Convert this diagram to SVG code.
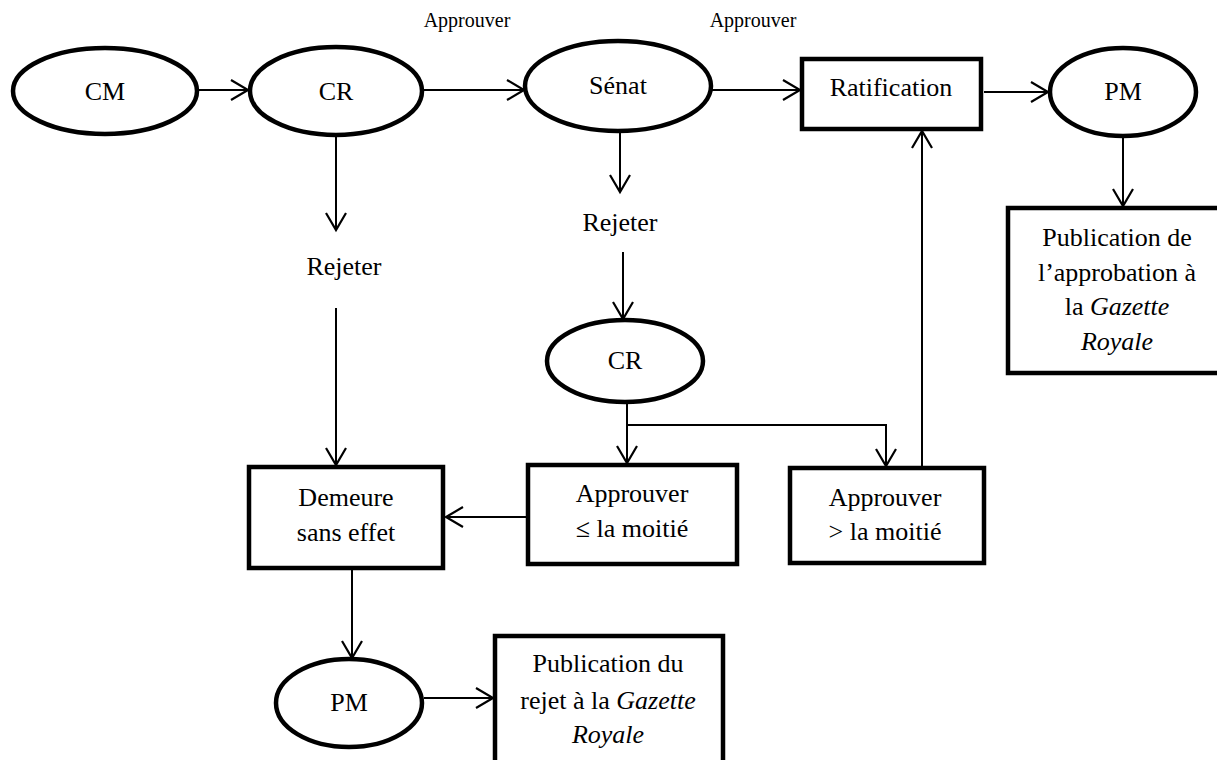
<svg xmlns="http://www.w3.org/2000/svg" width="1217" height="760" viewBox="0 0 1217 760">
<style>
.n{fill:#fff;stroke:#000;stroke-width:4.5}
.t{font-family:'Liberation Serif','Tinos','DejaVu Serif',serif;font-size:26px;fill:#000;text-anchor:middle}
.s{font-family:'Liberation Serif','Tinos','DejaVu Serif',serif;font-size:20px;fill:#000;text-anchor:middle}
.c{fill:none;stroke:#000;stroke-width:2}
</style>
<defs>
<marker id="a" markerUnits="userSpaceOnUse" markerWidth="22" markerHeight="22" viewBox="0 0 22 22" refX="19" refY="11" orient="auto">
<path d="M2,1 L19,11 L2,21" fill="none" stroke="#000" stroke-width="2.2"/>
</marker>
</defs>
<rect width="1217" height="760" fill="#fff"/>
<g id="connectors">
<line class="c" x1="198" y1="90" x2="248" y2="90" marker-end="url(#a)"/>
<line class="c" x1="423" y1="90" x2="524" y2="90" marker-end="url(#a)"/>
<line class="c" x1="712" y1="90" x2="800" y2="90" marker-end="url(#a)"/>
<line class="c" x1="984" y1="92" x2="1048" y2="92" marker-end="url(#a)"/>
<line class="c" x1="1123" y1="136" x2="1123" y2="206" marker-end="url(#a)"/>
<line class="c" x1="336" y1="135" x2="336" y2="230" marker-end="url(#a)"/>
<line class="c" x1="336" y1="308" x2="336" y2="465" marker-end="url(#a)"/>
<line class="c" x1="620" y1="130" x2="620" y2="192" marker-end="url(#a)"/>
<line class="c" x1="623" y1="252" x2="623" y2="319" marker-end="url(#a)"/>
<line class="c" x1="627" y1="402" x2="627" y2="463" marker-end="url(#a)"/>
<polyline class="c" points="627,425 886,425 886,466" marker-end="url(#a)"/>
<line class="c" x1="922" y1="466" x2="922" y2="131" marker-end="url(#a)"/>
<line class="c" x1="526" y1="517" x2="446" y2="517" marker-end="url(#a)"/>
<line class="c" x1="352" y1="570" x2="352" y2="658" marker-end="url(#a)"/>
<line class="c" x1="424" y1="698" x2="493" y2="698" marker-end="url(#a)"/>
</g>
<text class="s" x="467" y="27">Approuver</text>
<text class="s" x="753" y="27">Approuver</text>
<text class="t" x="344" y="275">Rejeter</text>
<text class="t" x="620" y="231">Rejeter</text>
<g id="cm"><ellipse class="n" cx="105" cy="91" rx="92" ry="43"/><text class="t" x="105" y="100">CM</text></g>
<g id="cr1"><ellipse class="n" cx="336" cy="91" rx="86" ry="44"/><text class="t" x="336" y="100">CR</text></g>
<g id="senat"><ellipse class="n" cx="618" cy="86" rx="93" ry="45"/><text class="t" x="618" y="94">Sénat</text></g>
<g id="ratification"><rect class="n" x="802" y="59" width="179" height="70"/><text class="t" x="891" y="96">Ratification</text></g>
<g id="pm1"><ellipse class="n" cx="1123" cy="92" rx="73" ry="44"/><text class="t" x="1123" y="100">PM</text></g>
<g id="pubapp"><rect class="n" x="1008" y="208" width="215" height="165"/>
<text class="t" x="1117" y="246">Publication de</text>
<text class="t" x="1117" y="281">l’approbation à</text>
<text class="t" x="1117" y="315">la <tspan font-style="italic">Gazette</tspan></text>
<text class="t" x="1117" y="350" font-style="italic">Royale</text></g>
<g id="cr2"><ellipse class="n" cx="625" cy="361" rx="78" ry="41"/><text class="t" x="625" y="369">CR</text></g>
<g id="demeure"><rect class="n" x="249" y="467" width="194" height="101"/>
<text class="t" x="346" y="506">Demeure</text><text class="t" x="346" y="541">sans effet</text></g>
<g id="applow"><rect class="n" x="528" y="465" width="209" height="99"/>
<text class="t" x="632" y="502">Approuver</text><text class="t" x="632" y="537">≤ la moitié</text></g>
<g id="apphigh"><rect class="n" x="790" y="468" width="194" height="95"/>
<text class="t" x="885" y="506">Approuver</text><text class="t" x="885" y="540">&gt; la moitié</text></g>
<g id="pm2"><ellipse class="n" cx="349" cy="703" rx="73" ry="44"/><text class="t" x="349" y="711">PM</text></g>
<g id="pubrej"><rect class="n" x="495" y="636" width="228" height="140"/>
<text class="t" x="608" y="672">Publication du</text>
<text class="t" x="608" y="709">rejet à la <tspan font-style="italic">Gazette</tspan></text>
<text class="t" x="608" y="743" font-style="italic">Royale</text></g>
</svg>
